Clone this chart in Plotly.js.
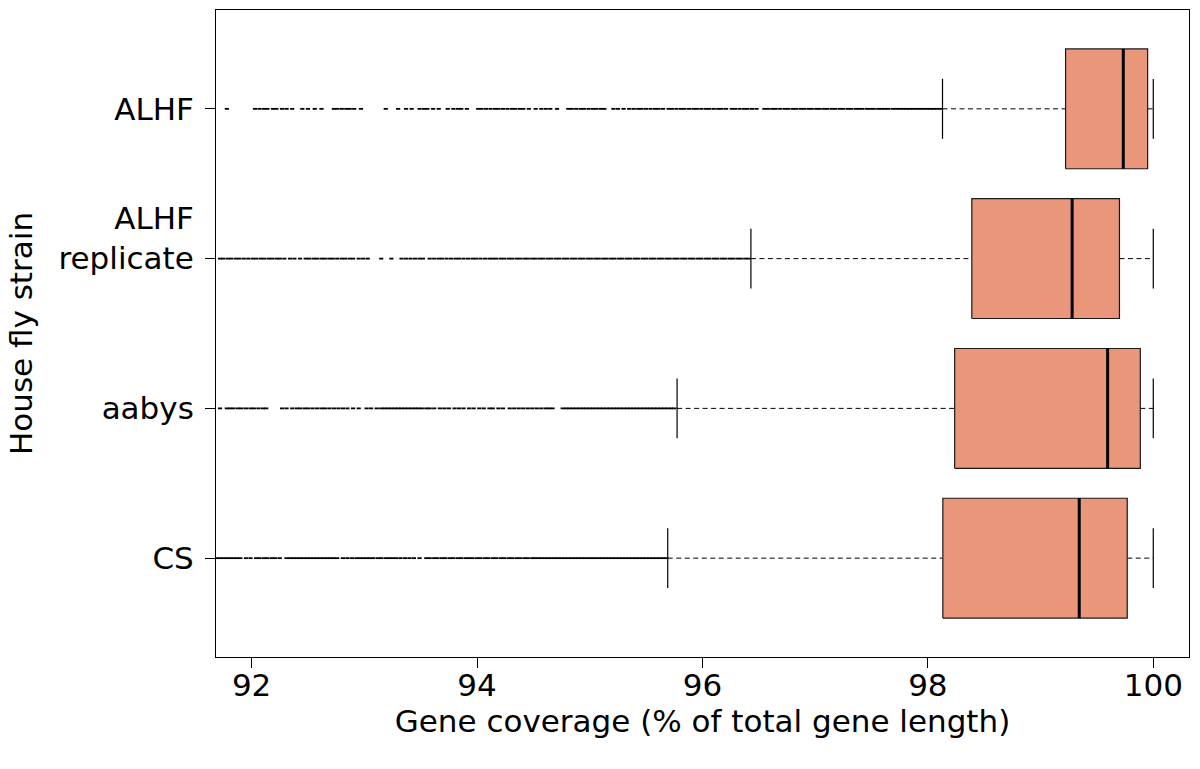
<!DOCTYPE html>
<html><head><meta charset="utf-8">
<script src="https://cdn.plot.ly/plotly-3.0.1.min.js"></script>
<style>html,body{margin:0;padding:0;background:#fff}#chart{width:1200px;height:769px}</style>
</head><body><div id="chart"></div>
<script>
// Categories from bottom to top
const categories = ['CS', 'aabys', 'ALHF replicate', 'ALHF'];
const tickLabels = ['CS', 'aabys', 'ALHF<br>replicate<br>&nbsp;', 'ALHF'];
const positions = [0, 1, 2, 3];
const xTicks = [92, 94, 96, 98, 100];

// Box statistics (gene coverage %)
const q1 = [98.133, 98.238, 98.39, 99.222];
const median = [99.343, 99.595, 99.28, 99.734];
const q3 = [99.769, 99.885, 99.70, 99.950];
const whiskerLow = [95.692, 95.775, 96.43, 98.130];
const whiskerHigh = [100, 100, 100, 100];

// Outliers
const outliersCS = [91.69,91.72,91.75,91.78,91.81,91.84,91.87,91.90,
91.95,91.99,
92.04,92.07,92.11,92.14,92.18,92.21,92.25,
92.31,92.34,92.37,92.40,92.43,92.46,92.49,92.52,92.55,92.58,92.61,92.64,92.67,92.70,92.73,92.76,
92.81,92.85,92.89,92.93,92.96,
92.99,93.02,
93.05,93.08,93.12,93.15,93.19,93.22,93.25,
93.28,93.32,93.36,93.40,93.44,93.49,
93.55,93.58,93.62,93.65,93.69,93.72,93.76,93.79,93.83,93.86,93.90,93.93,93.96,
94.00,94.03,94.07,94.10,94.14,94.17,94.21,94.24,94.28,94.31,94.35,94.38,94.42,94.45,94.49,
94.51,94.54,94.57,94.60,94.63,94.66,94.69,94.72,94.75,94.78,94.81,94.84,94.87,94.90,94.93,94.96,94.99,
95.02,95.05,95.08,95.11,95.14,95.17,95.20,95.23,95.26,95.29,95.32,95.35,95.38,95.41,95.44,95.47,95.50,
95.53,95.56,95.59,95.62,95.65,95.68];

const outliersAabys = [91.72,91.78,91.81,91.84,91.88,91.91,
91.95,91.99,92.02,92.06,92.10,92.13,
92.27,92.31,92.36,92.40,
92.43,92.47,92.50,92.54,
92.58,92.62,92.65,92.69,92.73,92.77,92.81,92.85,
92.90,92.95,93.02,
93.06,93.11,
93.15,93.18,93.21,93.24,93.27,93.30,93.33,93.36,93.39,93.42,93.45,93.48,93.51,93.55,
93.58,93.62,93.67,93.71,93.75,93.80,93.84,93.88,93.93,93.97,94.02,94.06,94.11,
94.14,94.19,94.23,
94.29,94.33,94.37,94.41,94.45,94.49,94.53,94.57,94.61,94.64,94.67,
94.76,94.79,94.82,94.85,94.88,94.91,94.94,94.97,95.00,95.03,95.06,95.09,95.12,95.15,95.18,95.21,
95.24,95.27,95.30,95.33,95.36,95.39,95.42,95.45,95.48,95.51,95.54,95.57,95.60,95.63,95.66,95.69,95.72,95.75];

const outliersALHFrep = [91.72,91.75,91.79,91.82,91.86,91.89,91.93,91.97,
92.01,92.04,92.08,92.11,92.15,92.18,92.22,92.25,92.29,
92.34,92.38,92.43,92.48,
92.51,92.55,92.58,92.62,92.65,92.69,92.72,92.76,92.80,92.83,92.87,92.90,92.95,
92.99,93.03,
93.15,93.24,
93.33,93.37,93.41,93.45,93.49,93.52,
93.58,93.62,93.66,93.69,93.73,93.77,93.81,93.84,93.88,93.92,93.96,93.99,94.03,94.07,94.11,
94.14,94.17,94.21,94.24,94.28,94.31,94.35,94.38,94.42,94.45,94.49,94.52,94.56,94.59,94.63,94.66,
94.70,94.73,94.77,94.80,94.84,94.87,94.91,94.94,94.98,95.01,95.05,95.08,
95.12,95.15,95.19,95.22,95.26,95.29,95.33,95.36,95.40,95.43,95.47,95.50,95.54,95.57,95.61,95.64,
95.68,95.71,95.75,95.78,95.82,95.85,95.89,95.92,95.96,95.99,96.03,96.06,96.10,96.13,96.17,96.20,
96.24,96.27,96.31,96.34,96.38,96.41];

const outliersALHF = [91.78,
92.03,92.07,92.11,92.14,92.19,92.22,92.27,92.31,92.36,
92.45,92.50,92.56,92.62,
92.73,92.76,92.80,92.84,92.87,92.91,92.97,
93.19,93.30,
93.37,93.42,93.49,93.53,93.56,93.61,
93.66,93.74,93.79,93.83,93.86,93.91,
94.01,94.04,94.08,94.12,94.16,94.19,94.23,94.27,94.31,94.34,94.38,
94.41,94.46,94.52,
94.57,94.61,94.65,94.71,
94.81,94.84,94.88,94.92,94.95,94.99,95.03,95.06,95.10,95.13,
95.21,95.25,95.30,95.35,95.39,
95.43,95.46,95.50,95.54,95.58,95.61,95.65,95.70,95.73,95.77,95.81,95.84,95.88,95.92,95.95,95.99,
96.03,96.06,96.10,96.14,96.17,96.21,96.26,96.29,96.33,96.37,96.40,96.44,96.48,
96.55,96.58,96.62,96.65,96.69,96.73,96.76,96.80,96.83,96.87,96.90,96.94,96.97,97.01,97.04,97.08,
97.11,97.15,97.18,97.22,97.25,97.29,97.32,97.36,97.39,97.42,97.46,97.49,97.52,97.56,97.59,97.62,
97.65,97.69,97.72,97.75,97.78,97.81,97.84,97.87,97.90,97.93,97.96,97.99,98.02,98.05,98.08,98.11];

const outlierSets = [outliersCS, outliersAabys, outliersALHFrep, outliersALHF];

const boxFill = '#E9967A';
const halfBox = 0.4;
const halfCap = 0.2;

const traces = [];

// outliers
outlierSets.forEach(function (vals, i) {
  traces.push({
    type: 'scatter', mode: 'markers',
    x: vals, y: vals.map(function () { return positions[i]; }),
    marker: { symbol: 'line-ew', size: 3, color: '#000', line: { color: '#000', width: 1.8 } },
    hoverinfo: 'skip', showlegend: false, name: categories[i] + ' outliers'
  });
});

categories.forEach(function (cat, i) {
  const p = positions[i];
  // dashed whiskers
  traces.push({
    type: 'scatter', mode: 'lines',
    x: [whiskerLow[i], q1[i], null, q3[i], whiskerHigh[i]],
    y: [p, p, null, p, p],
    line: { color: '#000', width: 1, dash: '5px,3.5px' },
    hoverinfo: 'skip', showlegend: false
  });
  // caps
  traces.push({
    type: 'scatter', mode: 'lines',
    x: [whiskerLow[i], whiskerLow[i], null, whiskerHigh[i], whiskerHigh[i]],
    y: [p - halfCap, p + halfCap, null, p - halfCap, p + halfCap],
    line: { color: '#000', width: 1.2 },
    hoverinfo: 'skip', showlegend: false
  });
  // box
  traces.push({
    type: 'scatter', mode: 'lines', fill: 'toself', fillcolor: boxFill,
    x: [q1[i], q3[i], q3[i], q1[i], q1[i]],
    y: [p - halfBox, p - halfBox, p + halfBox, p + halfBox, p - halfBox],
    line: { color: '#1a1a1a', width: 1.2 },
    hoverinfo: 'skip', showlegend: false, name: cat
  });
  // median
  traces.push({
    type: 'scatter', mode: 'lines',
    x: [median[i], median[i]],
    y: [p - halfBox, p + halfBox],
    line: { color: '#000', width: 3 },
    hoverinfo: 'skip', showlegend: false
  });
});

const layout = {
  width: 1200, height: 769,
  margin: { l: 216, r: 11, t: 10, b: 112 },
  paper_bgcolor: '#fff', plot_bgcolor: '#fff',
  font: { family: 'DejaVu Sans', size: 31, color: '#000' },
  showlegend: false,
  hovermode: false,
  xaxis: {
    range: [91.684, 100.317],
    tickvals: xTicks,
    ticktext: xTicks.map(String),
    ticks: 'outside', ticklen: 10, tickwidth: 1, tickcolor: '#000',
    ticklabelstandoff: -9,
    showline: true, mirror: true, linecolor: '#000', linewidth: 1,
    showgrid: false, zeroline: false,
    tickfont: { size: 31 },
    title: { text: 'Gene coverage (% of total gene length)', font: { size: 31 }, standoff: 4 }
  },
  yaxis: {
    range: [-0.66, 3.66],
    tickvals: positions,
    ticktext: tickLabels,
    ticks: 'outside', ticklen: 10, tickwidth: 1, tickcolor: '#000',
    ticklabelstandoff: 5,
    showline: true, mirror: true, linecolor: '#000', linewidth: 1,
    showgrid: false, zeroline: false,
    tickfont: { size: 31 },
    title: { text: 'House fly strain', font: { size: 31 }, standoff: 16 }
  }
};

Plotly.newPlot('chart', traces, layout, { displayModeBar: false, staticPlot: true });
</script>
</body></html>
